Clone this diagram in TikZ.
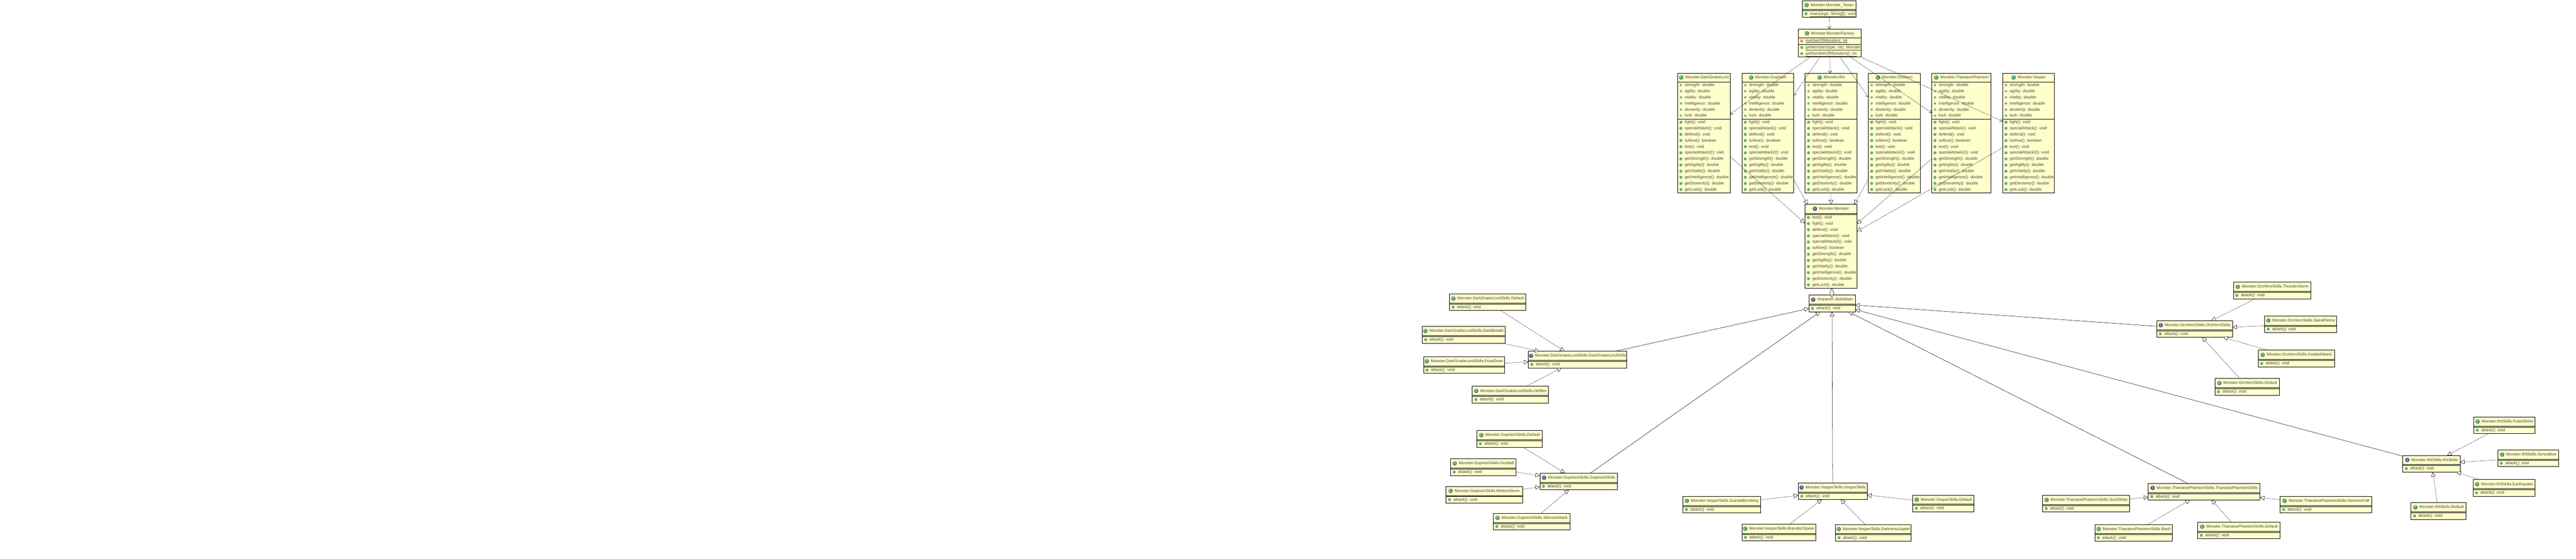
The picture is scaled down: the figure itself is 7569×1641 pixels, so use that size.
\documentclass[tikz,border=0pt]{standalone}
\usepackage{fontspec}
\setmainfont{Liberation Sans}
\usetikzlibrary{arrows.meta, positioning}

\definecolor{boxfill}{HTML}{FFFFCC}
\definecolor{rowink}{HTML}{45453A}
\definecolor{dotfill}{HTML}{6FB083}
\definecolor{dotline}{HTML}{3F8A60}
\definecolor{classink}{HTML}{3E8A63}
\definecolor{ifaceink}{HTML}{5B4BA3}
\definecolor{privink}{HTML}{B8433F}

\tikzset{
    boxframe/.style={draw=black,fill=boxfill,line width=1pt,inner sep=0pt,outer sep=0pt,anchor=north west},
    titletext/.style={text=rowink,inner sep=0pt,font=\fontsize{11.8}{14}\selectfont,text height=9.5pt,text depth=2.5pt},
    rowtext/.style={text=rowink,inner sep=0pt,anchor=west,font=\fontsize{12}{14}\selectfont,text height=9.5pt,text depth=2.5pt},
    iconC/.style={circle,fill=classink,text=white,inner sep=0pt,minimum size=13pt,font=\bfseries\fontsize{10}{10}\selectfont},
    iconI/.style={circle,fill=ifaceink,text=white,inner sep=0pt,minimum size=13pt,font=\bfseries\fontsize{10}{10}\selectfont},
    dotm/.style={circle,fill=dotfill,draw=dotline,line width=.7pt,inner sep=0pt,minimum size=7.5pt},
    dotf/.style={circle,fill=boxfill,draw=dotline,line width=1.3pt,inner sep=0pt,minimum size=5.5pt},
    dotp/.style={rectangle,fill=boxfill,draw=privink,line width=1.2pt,inner sep=0pt,minimum size=5pt},
    depline/.style={dashed,line width=.8pt,dash pattern=on 3pt off 2pt,-{Straight Barb[length=7pt,width=11pt]}},
    realizeline/.style={dashed,line width=.8pt,dash pattern=on 3pt off 2pt,-{Triangle[fill=white,length=13pt,width=13pt]}},
    extendline/.style={line width=.8pt,-{Triangle[fill=white,length=13pt,width=13pt]}},
    holdline/.style={line width=.8pt,-{Diamond[fill=white,length=27pt,width=13pt]}}
}

\newcommand{\skillbox}[7]{
    \node[boxframe,minimum width={#4-#2},minimum height=49] (#1) at (#2,#3) {};
    \draw[line width=1pt] ([yshift=-27pt]#1.north west) -- ([yshift=-27pt]#1.north east);
    \draw[line width=1pt] ([yshift=-30pt]#1.north west) -- ([yshift=-30pt]#1.north east);
    \node[titletext] (#1t) at ([xshift=9pt,yshift=-13.5pt]#1.north) {#6};
    \node[icon#5,left=5pt of #1t] (#1i) {#5};
    \node[dotm] (#1d) at ([xshift=10.5pt,yshift=-39pt]#1.north west) {};
    \node[rowtext] (#1r) at ([xshift=22pt,yshift=-39pt]#1.north west) {#7};
}

\newcommand{\monsterbox}[4]{
    \node[boxframe,minimum width={#3-#2},minimum height=352.6] (#1) at (#2,214.7) {};
    \draw[line width=1pt] ([yshift=-26.5pt]#1.north west) -- ([yshift=-26.5pt]#1.north east);
    \draw[line width=1pt] ([yshift=-135.5pt]#1.north west) -- ([yshift=-135.5pt]#1.north east);
    \node[titletext] (#1t) at ([xshift=9pt,yshift=-13pt]#1.north) {#4};
    \node[iconC,left=5pt of #1t] (#1i) {C};
    \foreach \f [count=\k, evaluate=\k as \yy using 17.3+18*\k] in {strength: double, agility: double, vitality: double, intelligence: double, dexterity: double, luck: double} {
        \node[dotf] (#1fd\k) at ([xshift=10pt,yshift=-\yy pt]#1.north west) {};
        \node[rowtext] (#1f\k) at ([xshift=21pt,yshift=-\yy pt]#1.north west) {\f};
    }
    \foreach \m [count=\k, evaluate=\k as \yy using 126.3+18*\k] in {fight(): void, specialAttack(): void, defend(): void, isAlive(): boolean, test(): void, specialAttack2(): void, getStrength(): double, getAgility(): double, getVitality(): double, getIntelligence(): double, getDexterity(): double, getLuck(): double} {
        \node[dotm] (#1md\k) at ([xshift=10pt,yshift=-\yy pt]#1.north west) {};
        \node[rowtext] (#1m\k) at ([xshift=21pt,yshift=-\yy pt]#1.north west) {\m};
    }
}

\begin{document}
\begin{tikzpicture}[x=1pt,y=-1pt]
    \useasboundingbox (0,0) rectangle (7569,1641);

    \skillbox{tester}{5296}{1.5}{5453}{C}{Monster.Monster\_Tester}{\underline{main(args: String[]): void}}

    \node[boxframe,minimum width=186,minimum height=82] (factory) at (5283,85) {};
    \draw[line width=1pt] ([yshift=-26pt]factory.north west) -- ([yshift=-26pt]factory.north east);
    \draw[line width=1pt] ([yshift=-46pt]factory.north west) -- ([yshift=-46pt]factory.north east);
    \node[titletext] (factoryt) at ([xshift=9pt,yshift=-13pt]factory.north) {Monster.MonsterFactory};
    \node[iconC,left=5pt of factoryt] (factoryi) {C};
    \node[dotp] (factoryp) at ([xshift=11pt,yshift=-35pt]factory.north west) {};
    \node[rowtext] (factoryf) at ([xshift=22pt,yshift=-35pt]factory.north west) {\underline{numberOfMonsters: int}};
    \node[dotm] (factoryd1) at ([xshift=11pt,yshift=-54.5pt]factory.north west) {};
    \node[rowtext] (factorym1) at ([xshift=22pt,yshift=-54.5pt]factory.north west) {\underline{getMonster(type: int): Monster}};
    \node[dotm] (factoryd2) at ([xshift=11pt,yshift=-72.5pt]factory.north west) {};
    \node[rowtext] (factorym2) at ([xshift=22pt,yshift=-72.5pt]factory.north west) {\underline{getNumberOfMonsters(): int}};

    \monsterbox{dsl}{4929}{5084}{Monster.DarkSnakeLord}
    \monsterbox{gop}{5118}{5270.5}{Monster.Gopinich}
    \monsterbox{ifrit}{5304}{5456.5}{Monster.Ifrit}
    \monsterbox{orc}{5489.5}{5642}{Monster.OrcHero}
    \monsterbox{than}{5675.5}{5850.5}{Monster.ThanatosPhantom}
    \monsterbox{vesp}{5884}{6036.5}{Monster.Vesper}

    \node[boxframe,minimum width=153,minimum height=246.5] (mon) at (5303,600.5) {};
    \draw[line width=1pt] ([yshift=-26.5pt]mon.north west) -- ([yshift=-26.5pt]mon.north east);
    \draw[line width=1pt] ([yshift=-29.5pt]mon.north west) -- ([yshift=-29.5pt]mon.north east);
    \node[titletext] (mont) at ([xshift=9pt,yshift=-13pt]mon.north) {Monster.Monster};
    \node[iconI,left=5pt of mont] (moni) {I};
    \foreach \m [count=\k, evaluate=\k as \yy using 20.5+18*\k] in {test(): void, fight(): void, defend(): void, specialAttack(): void, specialAttack2(): void, isAlive(): boolean, getStrength(): double, getAgility(): double, getVitality(): double, getIntelligence(): double, getDexterity(): double, getLuck(): double} {
        \node[dotm] (mond\k) at ([xshift=10.5pt,yshift=-\yy pt]mon.north west) {};
        \node[rowtext] (monr\k) at ([xshift=22pt,yshift=-\yy pt]mon.north west) {\m};
    }

    \skillbox{skills}{5315}{867}{5451}{I}{character.SkillsMain}{\textit{attack(): void}}

    \skillbox{dskills}{4490.5}{1032}{4780}{I}{Monster.DarkSnakeLordSkills.DarkSnakeLordSkills}{attack(): void}
    \skillbox{ddefault}{4259}{863.5}{4483}{C}{Monster.DarkSnakeLordSkills.Default}{attack(): void}
    \skillbox{dbreath}{4178.5}{959}{4421.5}{C}{Monster.DarkSnakeLordSkills.DarkBreath}{attack(): void}
    \skillbox{dfrost}{4182.5}{1048}{4420.5}{C}{Monster.DarkSnakeLordSkills.FrostDiver}{attack(): void}
    \skillbox{dfire}{4326}{1135}{4549.5}{C}{Monster.DarkSnakeLordSkills.Hellfire}{attack(): void}

    \skillbox{gskills}{4524.5}{1390}{4752}{I}{Monster.GopinichSkills.GopinichSkills}{attack(): void}
    \skillbox{gdefault}{4339}{1265}{4532}{C}{Monster.GopinichSkills.Default}{attack(): void}
    \skillbox{gball}{4262.5}{1348}{4454.5}{C}{Monster.GopinichSkills.FireBall}{attack(): void}
    \skillbox{gstorm}{4248.5}{1429}{4473}{C}{Monster.GopinichSkills.MeteorStorm}{attack(): void}
    \skillbox{gsilence}{4387.5}{1508}{4612.5}{C}{Monster.GopinichSkills.SilenceAttack}{attack(): void}

    \skillbox{vskills}{5283.5}{1419}{5486}{I}{Monster.VesperSkills.VesperSkills}{attack(): void}
    \skillbox{vbomb}{4944.5}{1458}{5172.5}{C}{Monster.VesperSkills.SuicideBombing}{attack(): void}
    \skillbox{vspear}{5118}{1540}{5334.5}{C}{Monster.VesperSkills.BrandishSpear}{attack(): void}
    \skillbox{vjupitel}{5393}{1541}{5615}{C}{Monster.VesperSkills.DarknessJupitel}{attack(): void}
    \skillbox{vdefault}{5620}{1454.5}{5800}{C}{Monster.VesperSkills.Default}{attack(): void}

    \skillbox{tskills}{6312}{1420}{6640.5}{I}{Monster.ThanatosPhantomSkills.ThanatosPhantomSkills}{attack(): void}
    \skillbox{tsoul}{6001.5}{1455}{6257.5}{C}{Monster.ThanatosPhantomSkills.SoulStrike}{attack(): void}
    \skillbox{thammer}{6699.5}{1458}{6968.5}{C}{Monster.ThanatosPhantomSkills.HammerFall}{attack(): void}
    \skillbox{tbash}{6155}{1541}{6383}{C}{Monster.ThanatosPhantomSkills.Bash}{attack(): void}
    \skillbox{tdefault}{6457.5}{1534}{6699.5}{C}{Monster.ThanatosPhantomSkills.Default}{attack(): void}

    \skillbox{oskills}{6337}{942}{6559.5}{I}{Monster.OrcHeroSkills.OrcHeroSkills}{attack(): void}
    \skillbox{othunder}{6562}{829}{6790}{C}{Monster.OrcHeroSkills.ThunderStorm}{attack(): void}
    \skillbox{ospiral}{6654}{928}{6866}{C}{Monster.OrcHeroSkills.SpiralPierce}{attack(): void}
    \skillbox{oguided}{6635}{1029}{6859}{C}{Monster.OrcHeroSkills.GuidedAttack}{attack(): void}
    \skillbox{odefault}{6508}{1112}{6698}{C}{Monster.OrcHeroSkills.Default}{attack(): void}

    \skillbox{iskills}{7060}{1338}{7228.5}{I}{Monster.IfritSkills.IfritSkills}{attack(): void}
    \skillbox{ipulse}{7268.5}{1225}{7449}{C}{Monster.IfritSkills.PulseStrike}{attack(): void}
    \skillbox{isonic}{7339}{1322}{7518}{C}{Monster.IfritSkills.SonicBlow}{attack(): void}
    \skillbox{iquake}{7266}{1409}{7449}{C}{Monster.IfritSkills.Earthquake}{attack(): void}
    \skillbox{idefault}{7084}{1477}{7246}{C}{Monster.IfritSkills.Default}{attack(): void}

    \foreach \a/\b in {tester/factory, factory/dsl, factory/gop, factory/ifrit, factory/orc, factory/than, factory/vesp}
        \draw[depline] (\a) -- (\b);

    \foreach \a in {dsl, gop, ifrit, orc, than, vesp}
        \draw[realizeline] (\a) -- (mon);

    \foreach \a/\b in {ddefault/dskills, dbreath/dskills, dfrost/dskills, dfire/dskills,
        gdefault/gskills, gball/gskills, gstorm/gskills, gsilence/gskills,
        vbomb/vskills, vspear/vskills, vjupitel/vskills, vdefault/vskills,
        tsoul/tskills, thammer/tskills, tbash/tskills, tdefault/tskills,
        othunder/oskills, ospiral/oskills, oguided/oskills, odefault/oskills,
        ipulse/iskills, isonic/iskills, iquake/iskills, idefault/iskills}
        \draw[realizeline] (\a) -- (\b);

    \foreach \a in {dskills, gskills, vskills, tskills, oskills, iskills}
        \draw[extendline] (\a) -- (skills);

    \draw[holdline] (skills) -- (mon);
\end{tikzpicture}
\end{document}
